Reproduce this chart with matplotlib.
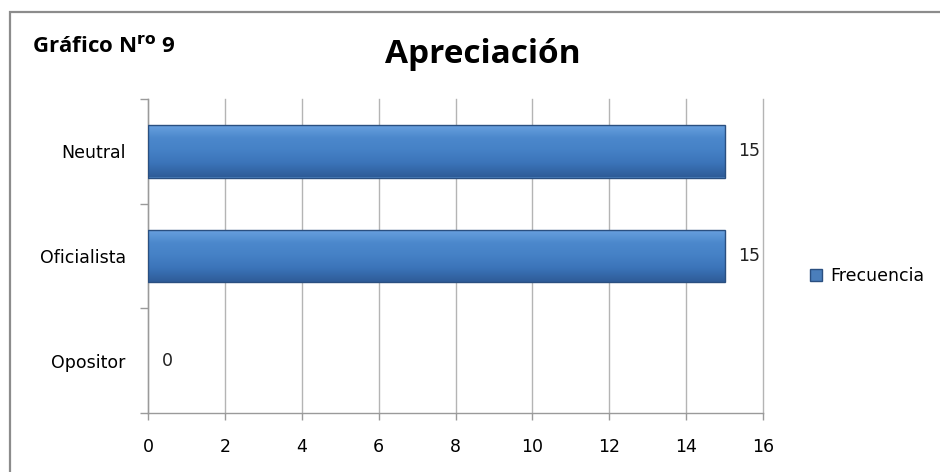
import numpy as np
import matplotlib
matplotlib.use("Agg")
import matplotlib.pyplot as plt
from matplotlib.patches import Rectangle, Patch
from matplotlib.colors import LinearSegmentedColormap

# data
categories = ["Opositor", "Oficialista", "Neutral"]
frecuencia = [0, 15, 15]
series_name = "Frecuencia"
x_ticks = [0, 2, 4, 6, 8, 10, 12, 14, 16]

FONT = "DejaVu Sans"
TITLE_FONT = "Open Sans"
GRID = "#b4b4b4"
TICK = "#9a9a9a"
BAR_EDGE = "#2a4f80"

bar_cmap = LinearSegmentedColormap.from_list(
    "bevel", ["#2e5c98", "#3b73b8", "#4581c6", "#4c88cc", "#6aa2e0"])


def main() -> None:
    fig = plt.figure(figsize=(9.4, 4.72), dpi=100)

    # outer frame (chart area border)
    fig.patches.append(Rectangle((10 / 940, -0.1), 1.2, 1 - 12 / 472 + 0.1,
                                 transform=fig.transFigure, fill=False,
                                 edgecolor="#8c8c8c", linewidth=1.6))

    ax = fig.add_axes([148 / 940, 1 - 413 / 472, 615 / 940, 314 / 472])
    y = np.arange(len(categories))
    bars = ax.barh(y, frecuencia, height=0.5, color="#4a7ebb",
                   linewidth=0, zorder=3)

    # gradient fill clipped to each bar
    grad = np.linspace(0, 1, 64).reshape(-1, 1)
    for b in bars:
        if b.get_width() <= 0:
            continue
        x0, y0 = b.get_x(), b.get_y()
        im = ax.imshow(grad, cmap=bar_cmap, aspect="auto", origin="lower",
                       extent=(x0, x0 + b.get_width(), y0, y0 + b.get_height()),
                       zorder=3.5)
        im.set_clip_path(b)
        ax.add_patch(Rectangle((x0, y0), b.get_width(), b.get_height(),
                               fill=False, edgecolor=BAR_EDGE, linewidth=1.0,
                               zorder=4))

    for yi, v in zip(y, frecuencia):
        ax.text(v + 0.36, yi, str(v), va="center", ha="left",
                fontsize=12.5, family=FONT, color="#222222")

    ax.set_xlim(0, 16)
    ax.set_ylim(-0.5, len(categories) - 0.5)
    ax.set_xticks(x_ticks)
    ax.set_xticklabels([str(t) for t in x_ticks], family=FONT, fontsize=12.5)
    ax.set_yticks(y)
    ax.set_yticklabels(categories, family=FONT, fontsize=12.5)
    ax.tick_params(axis="y", length=0, pad=16)
    ax.set_yticks(np.arange(-0.5, len(categories)), minor=True)
    ax.tick_params(axis="y", which="minor", length=6, width=1.0, color=TICK)
    ax.tick_params(axis="x", length=5, width=1.0, color=TICK, pad=13)

    ax.grid(axis="x", color=GRID, linewidth=1.0, zorder=0)
    for gl in ax.get_xgridlines():
        gl.set_clip_on(False)
    ax.set_axisbelow(True)
    for side in ["top", "right"]:
        ax.spines[side].set_visible(False)
    for side in ["left", "bottom"]:
        ax.spines[side].set_color(TICK)
        ax.spines[side].set_linewidth(1.0)

    fig.text(385 / 940, 1 - 63 / 472, "Apreciación", fontsize=24,
             fontweight="bold", family=TITLE_FONT, va="baseline", ha="left")
    fig.text(32 / 940, 1 - 53 / 472, r"Gráfico N$^{\mathbf{ro}}$ 9",
             fontsize=16, fontweight="bold", family=TITLE_FONT,
             va="baseline", ha="left")

    handles = [Patch(facecolor="#4a7ebb", edgecolor=BAR_EDGE, label=series_name)]
    fig.legend(handles=handles, loc="center left",
               bbox_to_anchor=(794 / 940, 1 - 276 / 472), frameon=False,
               prop={"family": FONT, "size": 12.5}, handlelength=0.7,
               handleheight=0.7, handletextpad=0.5)

    fig.savefig("out.png", dpi=100)
    plt.close(fig)


if __name__ == "__main__":
    main()
